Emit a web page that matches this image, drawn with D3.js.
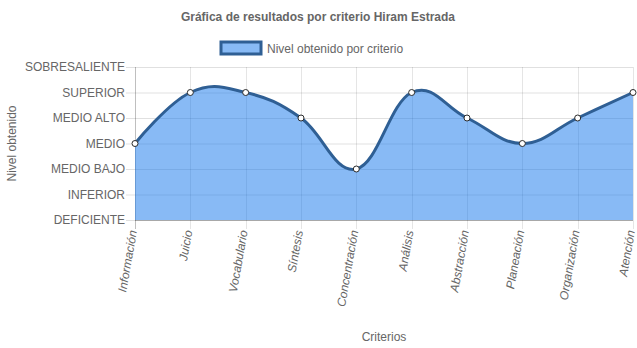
<!DOCTYPE html>
<html>
<head>
    <meta charset="utf-8">
    <title>Gráfica de resultados</title>
    <script src="https://d3js.org/d3.v7.min.js"></script>
    <style>
        body { margin: 0; background: #fff; }
        text { font-family: "Liberation Sans", Arial, Helvetica, sans-serif; fill: #666; }
    </style>
</head>
<body>
    <div id="chart"></div>
    <script>
        // data
        const criterios = ["Información", "Juicio", "Vocabulario", "Síntesis", "Concentración",
            "Análisis", "Abstracción", "Planeación", "Organización", "Atención"];
        const niveles = [3, 5, 5, 4, 2, 5, 4, 3, 4, 5];
        const nivelLabels = ["DEFICIENTE", "INFERIOR", "MEDIO BAJO", "MEDIO", "MEDIO ALTO", "SUPERIOR", "SOBRESALIENTE"];

        const W = 637, H = 348;
        const margin = { top: 67, right: 4, bottom: 128, left: 135 },
            width = W - margin.left - margin.right,
            height = H - margin.top - margin.bottom;

        const svg = d3.select("#chart").append("svg")
            .attr("width", W).attr("height", H);

        // title
        svg.append("text")
            .attr("x", 318).attr("y", 21)
            .attr("text-anchor", "middle")
            .style("font-size", "12px").style("font-weight", "bold")
            .text("Gráfica de resultados por criterio Hiram Estrada");

        // legend
        svg.append("rect")
            .attr("x", 221).attr("y", 42).attr("width", 40).attr("height", 12)
            .attr("fill", "rgba(17,118,236,0.5)")
            .attr("stroke", "#2f5f94").attr("stroke-width", 3);
        svg.append("text")
            .attr("x", 267).attr("y", 53)
            .style("font-size", "12px")
            .text("Nivel obtenido por criterio");

        const g = svg.append("g").attr("transform", `translate(${margin.left},${margin.top})`);

        const x = d3.scalePoint().domain(criterios).range([0, width]);
        const y = d3.scaleLinear().domain([0, 6]).range([height, 0]);

        // grid
        g.append("g").selectAll("line")
            .data(d3.range(0, 7))
            .join("line")
            .attr("x1", -9).attr("x2", width)
            .attr("y1", d => y(d) + 0.5).attr("y2", d => y(d) + 0.5)
            .attr("stroke", "rgba(0,0,0,0.12)");
        g.append("g").selectAll("line")
            .data(criterios)
            .join("line")
            .attr("x1", d => Math.round(x(d)) + 0.5).attr("x2", d => Math.round(x(d)) + 0.5)
            .attr("y1", 0).attr("y2", height + 9)
            .attr("stroke", d => d === criterios[0] ? "rgba(0,0,0,0.25)" : "rgba(0,0,0,0.1)");
        g.append("line")
            .attr("x1", 0).attr("x2", width)
            .attr("y1", height + 0.5).attr("y2", height + 0.5)
            .attr("stroke", "rgba(0,0,0,0.25)");

        // y tick labels
        g.append("g").selectAll("text")
            .data(nivelLabels)
            .join("text")
            .attr("x", -10).attr("y", (d, i) => y(i))
            .attr("dy", "0.35em")
            .attr("text-anchor", "end")
            .style("font-size", "12px")
            .text(d => d);

        // x tick labels
        g.append("g").selectAll("text")
            .data(criterios)
            .join("text")
            .attr("transform", d => `translate(${x(d) + 2},${height + 11}) rotate(-80)`)
            .attr("text-anchor", "end")
            .style("font-size", "12px")
            .style("font-style", "italic")
            .text(d => d);

        // axis titles
        svg.append("text")
            .attr("transform", `translate(16,${margin.top + height / 2}) rotate(-90)`)
            .attr("text-anchor", "middle")
            .style("font-size", "12px")
            .text("Nivel obtenido");
        svg.append("text")
            .attr("x", margin.left + width / 2).attr("y", 341)
            .attr("text-anchor", "middle")
            .style("font-size", "12px")
            .text("Criterios");

        const curve = d3.curveCardinal.tension(-0.2);

        // area
        g.append("path")
            .datum(niveles)
            .attr("fill", "rgba(17,118,236,0.5)")
            .attr("d", d3.area()
                .x((d, i) => x(criterios[i]))
                .y0(y(0))
                .y1(d => y(d))
                .curve(curve));

        // line
        g.append("path")
            .datum(niveles)
            .attr("fill", "none")
            .attr("stroke", "#2f5f94")
            .attr("stroke-width", 3)
            .attr("d", d3.line()
                .x((d, i) => x(criterios[i]))
                .y(d => y(d))
                .curve(curve));

        // points
        g.append("g").selectAll("circle")
            .data(niveles)
            .join("circle")
            .attr("cx", (d, i) => x(criterios[i]))
            .attr("cy", d => y(d))
            .attr("r", 3)
            .attr("fill", "#fff")
            .attr("stroke", "#2b2b2b")
            .attr("stroke-width", 1);
    </script>
</body>
</html>
